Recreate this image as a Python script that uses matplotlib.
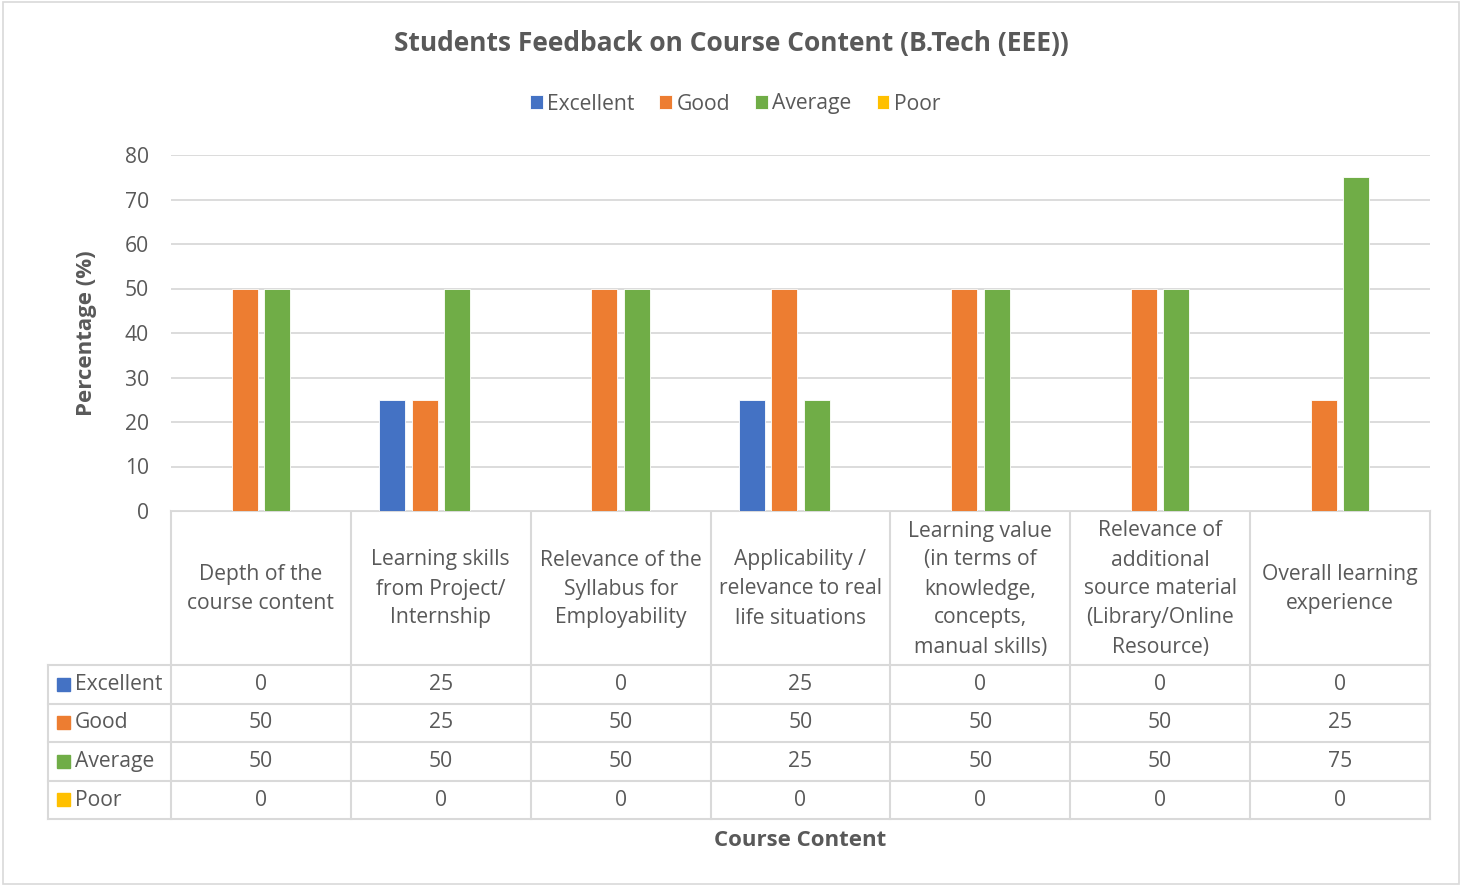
import matplotlib.pyplot as plt
from matplotlib.patches import Rectangle
import numpy as np

plt.rcParams['font.family'] = ['Open Sans', 'DejaVu Sans']

categorias = ["Depth of the\ncourse content",
              "Learning skills\nfrom Project/\nInternship",
              "Relevance of the\nSyllabus for\nEmployability",
              "Applicability /\nrelevance to real\nlife situations",
              "Learning value\n(in terms of\nknowledge,\nconcepts,\nmanual skills)",
              "Relevance of\nadditional\nsource material\n(Library/Online\nResource)",
              "Overall learning\nexperience"]
series = ["Excellent", "Good", "Average", "Poor"]
excellent = [0, 25, 0, 25, 0, 0, 0]
good = [50, 25, 50, 50, 50, 50, 25]
average = [50, 50, 50, 25, 50, 50, 75]
poor = [0, 0, 0, 0, 0, 0, 0]
yticks = [0, 10, 20, 30, 40, 50, 60, 70, 80]

valores = [excellent, good, average, poor]
colores = ['#4472C4', '#ED7D31', '#70AD47', '#FFC000']
gris_texto = '#595959'
gris_linea = '#D9D9D9'
fs = 15.2

W, H = 1468, 886
fig = plt.figure(figsize=(W / 100, H / 100), dpi=100)

# --- fondo en pixeles para tabla, borde y textos ---
bg = fig.add_axes([0, 0, 1, 1])
bg.set_xlim(0, W)
bg.set_ylim(H, 0)
bg.axis('off')
bg.add_patch(Rectangle((3, 2), 1456, 882, fill=False, edgecolor=gris_linea, lw=1.2))

# --- area de barras ---
x0, x1, ytop, ybot = 171, 1430, 155, 511
ax = fig.add_axes([x0 / W, 1 - ybot / H, (x1 - x0) / W, (ybot - ytop) / H])
n = len(categorias)
x = np.arange(n)
ancho = 0.145
paso = 0.18
for k, (nombre, vals) in enumerate(zip(series, valores)):
    ax.bar(x + (k - 1.5) * paso, vals, ancho, color=colores[k], label=nombre,
           edgecolor='white', linewidth=0.6, zorder=3)
ax.set_xlim(-0.5, n - 0.5)
ax.set_ylim(0, 80)
ax.set_yticks(yticks)
ax.set_xticks([])
ax.grid(True, axis='y', color=gris_linea, lw=1.3, zorder=0)
ax.tick_params(axis='y', length=0, labelsize=fs, labelcolor=gris_texto, pad=16)
for s in ax.spines.values():
    s.set_visible(False)
ax.set_ylabel('Percentage (%)', fontsize=16, fontweight='bold', color=gris_texto, labelpad=20)

fig.legend(*ax.get_legend_handles_labels(), loc='center', bbox_to_anchor=(735 / W, 1 - 104 / H),
           ncol=4, frameon=False, fontsize=fs, handlelength=0.6, handleheight=0.6,
           handletextpad=0.2, columnspacing=1.2, labelcolor=gris_texto)

fig.text(731 / W, 1 - 43 / H, 'Students Feedback on Course Content (B.Tech (EEE))',
         ha='center', va='center', fontsize=19, fontweight='bold', color=gris_texto)

# --- tabla de datos ---
col_w = (x1 - x0) / n
filas_y = [665, 704, 742, 781, 819]
xl = 48
bg.plot([x0, x1], [ybot, ybot], color=gris_linea, lw=1.5)
for yy in filas_y:
    bg.plot([xl, x1], [yy, yy], color=gris_linea, lw=1.5)
for i in range(n + 1):
    bg.plot([x0 + i * col_w] * 2, [ybot, filas_y[-1]], color=gris_linea, lw=1.5)
bg.plot([xl, xl], [filas_y[0], filas_y[-1]], color=gris_linea, lw=1.5)

for i, cat in enumerate(categorias):
    cx = x0 + (i + 0.5) * col_w
    bg.text(cx, (ybot + filas_y[0]) / 2 + 1, cat, ha='center', va='center', fontsize=fs,
            color=gris_texto, linespacing=1.5)
    for r, vals in enumerate(valores):
        cy = (filas_y[r] + filas_y[r + 1]) / 2
        bg.text(cx, cy, str(vals[i]), ha='center', va='center', fontsize=fs, color=gris_texto)

for r, nombre in enumerate(series):
    cy = (filas_y[r] + filas_y[r + 1]) / 2
    bg.add_patch(Rectangle((57, cy - 7), 13, 13, color=colores[r]))
    bg.text(75, cy, nombre, ha='left', va='center', fontsize=fs, color=gris_texto)

fig.text(800 / W, 1 - 840 / H, 'Course Content', ha='center', va='center',
         fontsize=16, fontweight='bold', color=gris_texto)

fig.savefig('out.png', dpi=100)
